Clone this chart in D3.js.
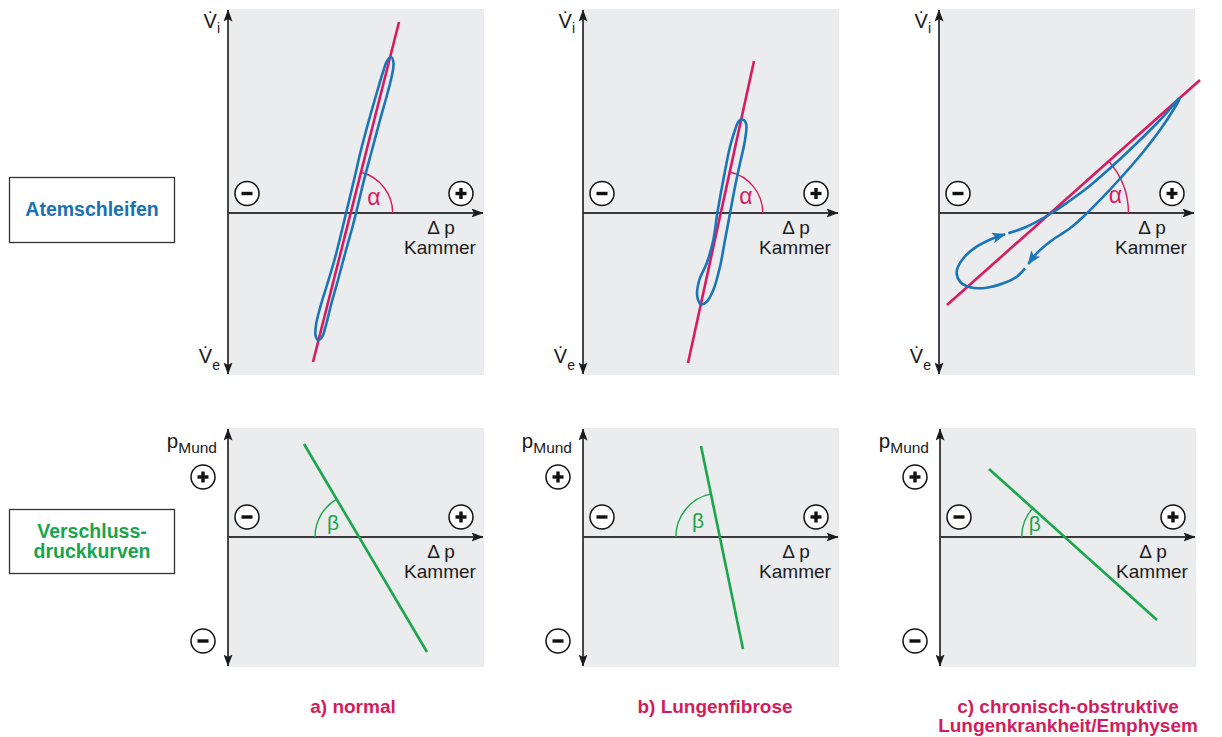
<!DOCTYPE html>
<html><head><meta charset="utf-8">
<script src="https://cdn.jsdelivr.net/npm/d3@7"></script>
<style>
body{margin:0;background:#fff}
svg{display:block}
text{font-family:"Liberation Sans",Arial,sans-serif}
</style>
</head><body>
<svg id="chart" width="1222" height="737"></svg>
<script>
// ---------------- DATA ----------------
const panelTitles = [["a) normal"], ["b) Lungenfibrose"], ["c) chronisch-obstruktive", "Lungenkrankheit/Emphysem"]];
const rowTitles = [["Atemschleifen"], ["Verschluss-", "druckkurven"]];
const xAxisLabel = ["Δ p", "Kammer"];
const topYLabels = [["V̇", "i"], ["V̇", "e"]];
const bottomYLabel = ["p", "Mund"];

// compliance (resistance) line in the breathing loops: [upper point, lower point]
const alphaLines = [
  [[17.1, 19.1], [8.5, -14.9]],
  [[17.1, 15.2], [10.5, -15.0]],
  [[26.1, 13.3], [0.8, -9.2]]
];
const alphaRadius = [4.2, 4.2, 7.8];
const alphaLabelPos = [[14.6, 1.35], [16.3, 1.38], [17.65, 1.47]];

// breathing loops (Atemschleifen), closed outlines
const loopNormal = [
  [16.3, 15.6], [16.55, 15.0], [16.4, 13.8], [15.9, 11.8], [15.2, 9.3], [14.4, 6.3], [13.6, 3.3],
  [13.0, 0.8], [12.5, -1.2], [11.8, -3.7], [11.0, -6.7], [10.3, -9.2], [9.8, -11.2], [9.4, -12.4],
  [9.0, -12.7], [8.75, -12.2], [8.8, -11.2], [9.2, -9.5], [9.9, -7.2], [10.7, -4.5], [11.4, -1.7],
  [12.0, 0.8], [12.6, 3.3], [13.3, 6.3], [14.1, 9.3], [14.9, 12.1], [15.5, 14.1], [15.9, 15.2]
];
const loopFibrose = [
  [15.87, 9.37], [16.3, 8.97], [16.2, 7.3], [15.7, 4.97], [15.2, 2.63], [14.7, -0.03], [14.2, -2.7],
  [13.7, -5.37], [13.03, -7.7], [12.37, -8.87], [11.83, -9.13], [11.43, -8.37], [11.63, -6.7],
  [12.37, -5.03], [13.03, -2.7], [13.43, -0.03], [14.03, 3.3], [14.7, 6.63], [15.2, 8.3], [15.53, 9.13]
];
// obstructive loop, drawn as two arrowed segments
const loopCopdA = [
  [6.93, -2.03], [8.77, -1.37], [11.1, -0.1], [12.9, 1.1], [14.77, 2.47], [17.1, 4.47], [19.77, 6.97],
  [22.1, 9.3], [24.1, 11.47], [23.43, 10.3], [22.1, 8.3], [20.43, 6.13], [18.43, 3.8], [16.43, 1.63],
  [14.43, -0.37], [13.1, -1.53], [11.1, -2.87], [9.77, -4.03], [8.93, -5.1]
];
const loopCopdB = [
  [8.6, -5.53], [7.77, -6.37], [6.43, -7.03], [4.77, -7.47], [3.1, -7.43], [2.1, -6.87], [1.77, -5.87],
  [2.43, -4.53], [3.77, -3.37], [5.43, -2.53], [6.6, -2.13]
];
const loops = [[loopNormal], [loopFibrose], [loopCopdA, loopCopdB]];

// occlusion pressure lines (Verschlussdruckkurven): [upper point, lower point]
const betaLines = [
  [[7.6, 9.3], [19.9, -11.5]],
  [[11.8, 9.1], [16.0, -11.2]],
  [[4.9, 6.8], [21.7, -8.3]]
];
const betaRadius = [4.4, 4.4, 4.3];
const betaLabelPos = [[10.5, 1.25], [11.5, 1.4], [9.47, 1.08]];

// sign markers [x, y, sign]
const topSigns = [[1.9, 1.95, "-"], [23.3, 1.95, "+"]];
const bottomSigns = [[1.9, 2.0, "-"], [23.3, 2.0, "+"], [-2.5, 6.0, "+"], [-2.5, -10.4, "-"]];

// ---------------- LAYOUT ----------------
const topAxisX = [228, 583, 939];
const botAxisX = [228, 583, 940];
const plotW = 256;
const xDomain = [0, 25.6];
const topY = {domain: [-16.2, 20.4], range: [375, 9]};
const botY = {domain: [-13.0, 10.9], range: [667, 428]};

const COL = {
  bg: "#ebecee", axis: "#1a1a1a", hAxis: "#3a3a3a", red: "#d81b60", blue: "#1b75b9",
  green: "#1aa64b", title: "#d31c5d", rowBlue: "#1a70b2", rowGreen: "#18a44c", text: "#1a1a1a"
};

const svg = d3.select("#chart");
const defs = svg.append("defs");
defs.append("marker").attr("id", "axArrow")
  .attr("viewBox", "0 0 12 9").attr("refX", 11.5).attr("refY", 4.5)
  .attr("markerWidth", 12).attr("markerHeight", 9).attr("markerUnits", "userSpaceOnUse")
  .attr("orient", "auto-start-reverse")
  .append("path").attr("d", "M0,0 L12,4.5 L0,9 L2.5,4.5 Z").attr("fill", COL.axis);
defs.append("marker").attr("id", "loopArrow")
  .attr("viewBox", "0 0 14 11").attr("refX", 13).attr("refY", 5.5)
  .attr("markerWidth", 14).attr("markerHeight", 11).attr("markerUnits", "userSpaceOnUse")
  .attr("orient", "auto")
  .append("path").attr("d", "M0,0 L14,5.5 L0,11 L3.5,5.5 Z").attr("fill", COL.blue);

function drawSign(g, cx, cy, s) {
  const sg = g.append("g").attr("transform", `translate(${cx},${cy})`);
  sg.append("circle").attr("r", 12).attr("fill", "#fff").attr("stroke", "#111").attr("stroke-width", 1.5);
  sg.append("rect").attr("x", -5.5).attr("y", -1.7).attr("width", 11).attr("height", 3.4).attr("fill", "#111");
  if (s === "+") sg.append("rect").attr("x", -1.7).attr("y", -5.5).attr("width", 3.4).attr("height", 11).attr("fill", "#111");
}

function crossingX(line) {
  const [[x1, y1], [x2, y2]] = line;
  return x1 + (0 - y1) * (x2 - x1) / (y2 - y1);
}

function drawAxesBase(g, x, y) {
  const x0 = x(0), y0 = y(0);
  g.append("rect").attr("x", x0).attr("y", y.range()[1]).attr("width", plotW)
    .attr("height", y.range()[0] - y.range()[1]).attr("fill", COL.bg);
  // vertical axis
  g.append("line").attr("x1", x0).attr("x2", x0)
    .attr("y1", y.range()[1] + 1).attr("y2", y.range()[0] - 1)
    .attr("stroke", COL.axis).attr("stroke-width", 1.6)
    .attr("marker-start", "url(#axArrow)").attr("marker-end", "url(#axArrow)");
  // horizontal axis
  g.append("line").attr("x1", x0).attr("x2", x(xDomain[1]) - 1)
    .attr("y1", y0).attr("y2", y0)
    .attr("stroke", COL.hAxis).attr("stroke-width", 2)
    .attr("marker-end", "url(#axArrow)");
  // x axis label
  const lx = x0 + 212;
  g.append("text").attr("x", lx + 1).attr("y", y0 + 21).attr("text-anchor", "middle")
    .attr("font-size", 19).attr("fill", COL.text).text(xAxisLabel[0]);
  g.append("text").attr("x", lx).attr("y", y0 + 40.5).attr("text-anchor", "middle")
    .attr("font-size", 19).attr("fill", COL.text).text(xAxisLabel[1]);
}

// ---------------- TOP ROW: Atemschleifen ----------------
topAxisX.forEach((ax, i) => {
  const g = svg.append("g");
  const x = d3.scaleLinear(xDomain, [ax, ax + plotW]);
  const y = d3.scaleLinear(topY.domain, topY.range);
  drawAxesBase(g, x, y);

  // y labels
  const yl = [[28, 33], [363, 370]];
  topYLabels.forEach((lab, k) => {
    const t = g.append("text").attr("x", x(0) - 8).attr("y", yl[k][0]).attr("text-anchor", "end")
      .attr("font-size", 20).attr("fill", COL.text);
    t.append("tspan").text(lab[0]);
    t.append("tspan").attr("font-size", 14).attr("dy", yl[k][1] - yl[k][0]).text(lab[1]);
  });

  topSigns.forEach(s => drawSign(g, x(s[0]), y(s[1]), s[2]));

  // alpha arc
  const L = alphaLines[i];
  const cx = x(crossingX(L)), cy = y(0);
  const r = x(alphaRadius[i]) - x(0);
  const up = L[0];
  const th = Math.atan2(cy - y(up[1]), x(up[0]) - cx);
  g.append("path")
    .attr("d", `M${cx + r},${cy} A${r},${r} 0 0 0 ${cx + r * Math.cos(th)},${cy - r * Math.sin(th)}`)
    .attr("fill", "none").attr("stroke", COL.red).attr("stroke-width", 1.4);
  g.append("text").attr("x", x(alphaLabelPos[i][0])).attr("y", y(alphaLabelPos[i][1]) + 5)
    .attr("text-anchor", "middle").attr("font-family", "'Liberation Serif','Times New Roman',serif")
    .attr("font-size", 23).attr("fill", COL.red).text("α");

  // red line
  g.append("line").attr("x1", x(L[0][0])).attr("y1", y(L[0][1]))
    .attr("x2", x(L[1][0])).attr("y2", y(L[1][1]))
    .attr("stroke", COL.red).attr("stroke-width", 2.6);

  // loops
  const segs = loops[i];
  if (segs.length === 1) {
    const line = d3.line().x(d => x(d[0])).y(d => y(d[1])).curve(d3.curveCatmullRomClosed.alpha(0.5));
    g.append("path").attr("d", line(segs[0])).attr("fill", "none")
      .attr("stroke", COL.blue).attr("stroke-width", 2.6);
  } else {
    const line = d3.line().x(d => x(d[0])).y(d => y(d[1])).curve(d3.curveCatmullRom.alpha(0.5));
    segs.forEach(s => {
      g.append("path").attr("d", line(s)).attr("fill", "none")
        .attr("stroke", COL.blue).attr("stroke-width", 2.6).attr("marker-end", "url(#loopArrow)");
    });
  }
});

// ---------------- BOTTOM ROW: Verschlussdruckkurven ----------------
botAxisX.forEach((ax, i) => {
  const g = svg.append("g");
  const x = d3.scaleLinear(xDomain, [ax, ax + plotW]);
  const y = d3.scaleLinear(botY.domain, botY.range);
  drawAxesBase(g, x, y);

  const t = g.append("text").attr("x", x(0) - 11).attr("y", 448).attr("text-anchor", "end")
    .attr("font-size", 20.5).attr("fill", COL.text);
  t.append("tspan").text(bottomYLabel[0]);
  t.append("tspan").attr("font-size", 15.5).attr("dy", 5).text(bottomYLabel[1]);

  bottomSigns.forEach(s => drawSign(g, x(s[0]), y(s[1]), s[2]));

  const L = betaLines[i];
  const cx = x(crossingX(L)), cy = y(0);
  const r = x(betaRadius[i]) - x(0);
  const up = L[0];
  const ph = Math.atan2(cy - y(up[1]), x(up[0]) - cx);
  g.append("path")
    .attr("d", `M${cx - r},${cy} A${r},${r} 0 0 1 ${cx + r * Math.cos(ph)},${cy - r * Math.sin(ph)}`)
    .attr("fill", "none").attr("stroke", COL.green).attr("stroke-width", 1.4);
  g.append("text").attr("x", x(betaLabelPos[i][0])).attr("y", y(betaLabelPos[i][1]) + 5)
    .attr("text-anchor", "middle").attr("font-family", "'Liberation Serif','Times New Roman',serif")
    .attr("font-size", 21).attr("fill", COL.green).text("β");

  g.append("line").attr("x1", x(L[0][0])).attr("y1", y(L[0][1]))
    .attr("x2", x(L[1][0])).attr("y2", y(L[1][1]))
    .attr("stroke", COL.green).attr("stroke-width", 2.6);

  // panel titles
  const tx = [353, 715, 1068][i];
  panelTitles[i].forEach((s, k) => {
    svg.append("text").attr("x", tx).attr("y", 713 + k * 19).attr("text-anchor", "middle")
      .attr("font-size", 19).attr("font-weight", "bold").attr("fill", COL.title).text(s);
  });
});

// ---------------- ROW TITLES ----------------
const boxes = [{y: 177, h: 65, color: COL.rowBlue, base: [216]}, {y: 509, h: 64, color: COL.rowGreen, base: [538, 558]}];
boxes.forEach((b, i) => {
  svg.append("rect").attr("x", 9.5).attr("y", b.y + 0.5).attr("width", 165).attr("height", b.h)
    .attr("fill", "#fff").attr("stroke", "#333").attr("stroke-width", 1.3);
  rowTitles[i].forEach((s, k) => {
    svg.append("text").attr("x", 92).attr("y", b.base[k]).attr("text-anchor", "middle")
      .attr("font-size", 19.5).attr("font-weight", "bold").attr("fill", b.color).text(s);
  });
});
</script>
</body></html>
